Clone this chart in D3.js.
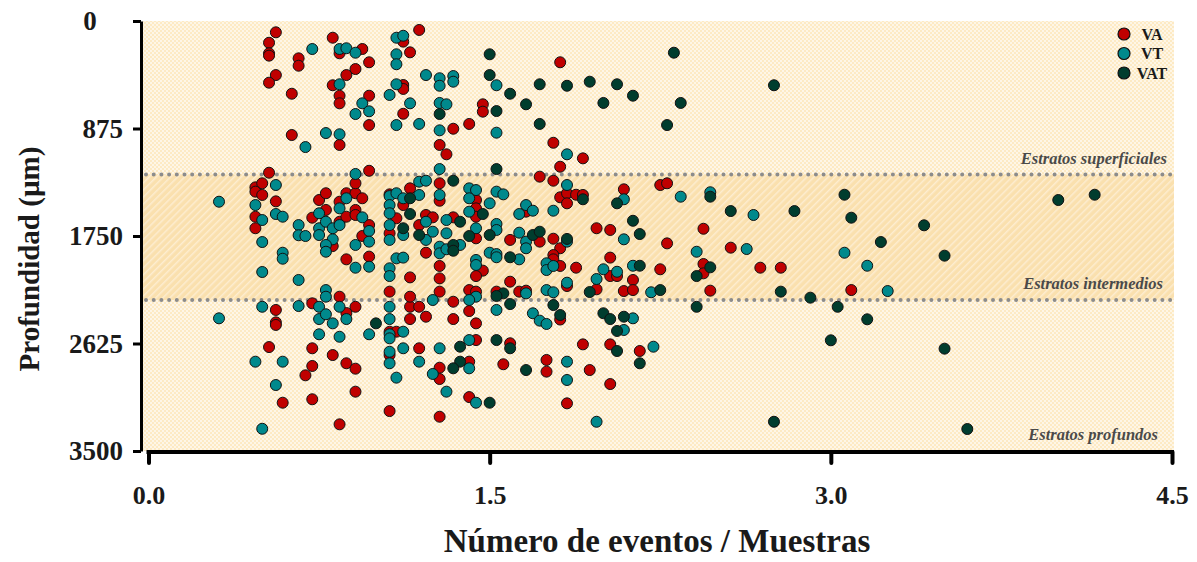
<!DOCTYPE html>
<html>
<head>
<meta charset="utf-8">
<script src="https://cdn.jsdelivr.net/npm/d3@7"></script>
<style>
  html, body { margin: 0; padding: 0; background: #ffffff; }
  svg { display: block; }
  text { font-family: "Liberation Serif", "Times New Roman", serif; }
</style>
</head>
<body>
<svg id="chart" width="1197" height="562"></svg>
<script>
// Events per sample (x) versus depth in µm (y) for each vessel class.
const VA = [
  [0.56,92],[0.53,177],[0.53,263],[0.53,282],[0.66,304],[0.66,364],[0.81,136],[0.84,263],
  [0.94,228],[0.97,336],[0.91,391],[0.87,440],[0.56,440],[0.53,502],[0.81,523],[0.84,608],
  [0.84,670],[0.97,608],[0.97,847],[0.63,592],[0.63,928],[0.84,1009],[1.12,168],[1.15,255],
  [1.12,521],[1.12,553],[1.12,755],[1.19,73],[1.34,877],[1.41,838],[1.47,678],[1.47,738],
  [1.28,1009],[1.31,1085],[1.81,336],[1.78,991],[1.91,1118],[1.81,1186],
  [0.53,1235],[0.47,1354],[0.50,1321],[0.47,1389],[0.50,1416],[0.47,1593],[0.47,1687],
  [0.56,1468],[0.72,1601],[0.75,1457],[0.78,1402],[0.78,1538],[0.81,1832],[0.84,1471],
  [0.84,1634],[0.87,1402],[0.91,1402],[0.94,1443],[0.91,1538],[0.87,1593],[0.91,1579],
  [0.97,1661],[0.94,1750],[0.87,1940],[0.97,1918],[0.91,1321],[0.97,1219],[1.06,1728],
  [1.09,1606],[1.12,1498],[1.06,2203],[1.15,2087],[1.15,1362],[0.84,2244],[0.56,2352],
  [0.72,2298],[0.91,2326],[0.87,2377],[1.06,1411],
  [1.72,1267],[1.78,1300],[1.28,1321],[1.28,1463],[1.44,1457],[1.44,1525],[1.44,1593],
  [1.22,1579],[1.25,1598],[1.19,1661],[1.34,1598],[1.44,1769],[1.22,1886],[1.47,2032],
  [1.44,2076],[1.28,1994],[1.28,2095],[1.28,2203],[1.59,2122],[1.59,1782],[1.72,1796],
  [1.66,1552],[1.81,1435],[1.84,1402],[1.88,1414],[1.91,1416],[1.84,1484],[2.09,1370],
  [2.25,1335],[1.97,1687],[2.03,1701],[1.78,1772],[1.81,1850],[1.78,1905],[1.78,1940],
  [1.81,1994],[1.88,2008],[2.03,1926],[2.28,1810],[2.03,2076],[2.06,2076],[2.25,2021],
  [2.13,2108],[1.84,2157],[1.97,2184],[2.09,2198],[2.13,2190],[1.63,2203],[1.66,2195],
  [1.53,2203],[1.41,2190],[1.44,2203],[1.34,2285],[1.15,2326],[1.19,2326],[1.15,2244],
  [1.41,2361],[1.81,2430],[2.28,1321],[2.44,1691],[2.56,1845],[2.69,2008],[2.78,2008],
  [2.44,1978],[2.44,2054],[2.47,2195],[3.09,2190],
  [0.56,2453],[0.56,2474],[1.06,2529],[1.09,2529],[1.06,2719],[1.15,2426],[1.06,3175],
  [0.53,2654],[0.72,2664],[0.81,2719],[0.72,2808],[0.69,2884],[0.87,2786],[0.91,2830],
  [0.59,3107],[0.72,3079],[0.91,3017],[0.84,3283],
  [1.22,2407],[1.19,2664],[1.34,2426],[1.44,2461],[1.44,2597],[1.59,2623],[1.41,2773],
  [1.28,2822],[1.28,2914],[1.41,3061],[1.28,3221],[1.56,2794],[1.75,2759],[1.75,2854],
  [1.84,3112],[1.91,2632],[1.94,2841],[2.03,2632],[2.03,2955],[2.16,2686]
];

const VT = [
  [0.72,228],[0.84,228],[0.87,222],[0.91,258],[0.84,515],[0.94,670],[0.97,735],[0.91,757],
  [0.78,912],[0.84,922],[0.69,1026],[1.09,136],[1.12,120],[1.09,271],[1.09,352],[1.09,515],
  [1.06,602],[1.09,847],[1.15,670],[1.22,440],[1.28,466],[1.28,527],[1.34,448],[1.34,494],
  [1.28,667],[1.31,678],[1.19,838],[1.28,890],[1.53,523],[1.53,909],[1.84,1085],[1.28,1205],
  [0.31,1471],[0.47,1498],[0.50,1620],[0.50,1799],[0.56,1335],[0.56,1571],[0.59,1593],
  [0.59,1886],[0.59,1935],[0.50,2043],[0.66,2108],[0.66,1661],[0.66,1744],[0.69,1750],
  [0.75,1565],[0.75,1687],[0.75,1742],[0.78,1634],[0.81,1687],[0.81,1777],[0.78,1823],
  [0.78,1878],[0.84,1525],[0.84,1661],[0.87,1443],[0.94,1598],[0.97,1709],[0.97,1796],
  [0.91,1823],[0.91,2008],[0.97,2000],[0.91,1245],[1.06,1425],[1.09,1402],[1.06,1498],
  [1.06,1565],[1.06,1661],[1.06,1782],[1.12,1742],[1.09,1932],[1.12,1926],[1.06,2013],
  [1.06,2076],[0.78,2190],[0.78,2244],[0.50,2326],[0.66,2320],[0.75,2326],[0.84,2326],
  [1.06,2326],
  [1.19,1308],[1.22,1300],[1.12,1443],[1.19,1416],[1.28,1416],[1.41,1362],[1.44,1376],
  [1.41,1443],[1.50,1484],[1.53,1389],[1.56,1411],[1.41,1552],[1.22,1634],[1.31,1620],
  [1.31,1728],[1.22,1782],[1.25,1715],[1.28,1837],[1.28,1891],[1.31,1858],[1.37,1823],
  [1.44,1687],[1.53,1652],[1.53,1701],[1.50,1886],[1.53,1897],[1.53,1923],[1.63,1940],
  [1.44,1945],[1.44,1986],[1.63,1723],[1.66,1796],[1.66,1850],[1.63,1571],[1.66,1498],
  [1.69,1544],[1.78,1544],[1.84,1335],[2.09,1451],[2.09,1777],[1.84,1796],[1.75,1972],
  [1.75,2027],[1.78,1994],[2.00,2021],[2.06,2041],[2.13,1992],[1.97,2100],[1.84,2130],
  [2.21,2208],[1.75,2190],[1.78,2208],[1.66,2217],[1.44,2244],[1.41,2271],[1.25,2271],
  [1.53,2352],[1.69,2379],
  [2.34,1430],[2.47,1394],[2.66,1579],[2.41,1878],[2.63,1856],[3.06,1886],[3.16,1992],
  [3.25,2198],
  [0.31,2420],[0.75,2426],[0.78,2387],[0.81,2461],[0.87,2426],[0.75,2550],[0.84,2570],
  [0.97,2550],[1.06,2426],[1.06,2550],[1.06,2583],[1.06,2692],[1.06,2786],[1.12,2529],
  [1.12,2664],[1.09,2903],[0.47,2773],[0.59,2773],[0.56,2963],[0.50,3319],
  [1.19,2773],[1.28,2664],[1.41,2597],[1.41,2827],[1.25,2873],[1.31,3017],[1.44,3107],
  [1.72,2439],[1.75,2466],[1.84,2773],[1.84,2922],[1.97,3262],[2.13,2420],[2.09,2515],
  [2.22,2651]
];

const VAT = [
  [1.28,757],[1.50,271],[1.50,440],[1.53,733],[1.59,592],[1.66,678],[1.72,515],[1.72,838],
  [1.84,527],[1.94,494],[2.00,667],[2.06,515],[2.13,608],[2.28,847],[2.31,258],[2.34,667],
  [2.75,523],[1.53,1205],
  [1.12,1687],[1.34,1300],[1.15,1443],[1.47,1571],[1.15,1571],[1.37,1634],[1.19,1742],
  [1.34,1823],[1.34,1870],[1.41,1750],[1.50,1742],[1.59,1923],[1.69,1742],[1.72,1715],
  [1.91,1451],[2.06,1484],[2.13,1626],[2.16,1734],[1.84,1774],[2.16,1992],[1.94,2206],
  [2.25,2190],[1.56,2217],[1.53,2238],[1.59,2304],[1.78,2312],[2.47,1430],[2.56,1547],
  [2.84,1547],[3.06,1414],[3.09,1601],[3.41,1663],[2.47,2005],[2.41,2076],[2.78,2203],
  [2.91,2252],[3.22,1799],[4.00,1457],[4.16,1414],[3.50,1910],[2.41,2326],[3.03,2326],
  [1.00,2461],[1.37,2651],[1.37,2773],[1.34,2827],[1.50,3107],[1.53,2597],[1.59,2664],
  [1.66,2841],[1.81,2393],[2.00,2379],[2.03,2426],[2.09,2407],[2.06,2523],[2.06,2686],
  [2.16,2786],[3.16,2428],[3.00,2599],[2.75,3262],[3.50,2667],[3.60,3321]
];

const seriesNames = ["VA", "VT", "VAT"];
const seriesColors = ["#c00000", "#00898c", "#003d2e"];
const xTicks = [0, 1.5, 3.0, 4.5];
const yTicks = [0, 875, 1750, 2625, 3500];
// Intermediate stratum limits (µm)
const strataLimits = [1250, 2270];
const strataLabels = ["Estratos superficiales", "Estratos intermedios", "Estratos profundos"];

const svg = d3.select("#chart");
const plot = { left: 143, right: 1174, top: 21, bottom: 451 };

const x = d3.scaleLinear().domain([0, 4.5]).range([148.5, 1172]);
const y = d3.scaleLinear().domain([0, 3500]).range([plot.top, plot.bottom]);

// Background textures
const defs = svg.append("defs");
const dots = defs.append("pattern").attr("id", "dots")
  .attr("patternUnits", "userSpaceOnUse").attr("width", 4).attr("height", 4);
dots.append("rect").attr("width", 4).attr("height", 4).attr("fill", "#fdeac4");
dots.append("circle").attr("cx", 1).attr("cy", 1).attr("r", 0.9).attr("fill", "#ffffff").attr("opacity", 0.85);
dots.append("circle").attr("cx", 3).attr("cy", 3).attr("r", 0.9).attr("fill", "#ffffff").attr("opacity", 0.85);

const hatch = defs.append("pattern").attr("id", "hatch")
  .attr("patternUnits", "userSpaceOnUse").attr("width", 5).attr("height", 5)
  .attr("patternTransform", "rotate(45)");
hatch.append("rect").attr("width", 5).attr("height", 5).attr("fill", "#fae0ae");
hatch.append("rect").attr("width", 1.5).attr("height", 5).attr("fill", "#fdedd0");

svg.append("rect")
  .attr("x", plot.left).attr("y", plot.top)
  .attr("width", plot.right - plot.left).attr("height", plot.bottom - plot.top)
  .attr("fill", "url(#dots)");

svg.append("rect")
  .attr("x", plot.left).attr("y", y(strataLimits[0]))
  .attr("width", plot.right - plot.left)
  .attr("height", y(strataLimits[1]) - y(strataLimits[0]))
  .attr("fill", "url(#hatch)");

// Dotted stratum boundaries
svg.selectAll("line.limit").data(strataLimits).join("line")
  .attr("class", "limit")
  .attr("x1", plot.left + 3).attr("x2", plot.right)
  .attr("y1", d => y(d)).attr("y2", d => y(d))
  .attr("stroke", "#8c8c8c").attr("stroke-width", 4)
  .attr("stroke-linecap", "round").attr("stroke-dasharray", "0,7.7");

// Stratum labels
const labelPos = [
  { x: 1167, y: 164 }, { x: 1163, y: 289 }, { x: 1158, y: 440 }
];
svg.selectAll("text.stratum").data(strataLabels).join("text")
  .attr("class", "stratum")
  .attr("x", (d, i) => labelPos[i].x).attr("y", (d, i) => labelPos[i].y)
  .attr("text-anchor", "end")
  .attr("font-style", "italic").attr("font-weight", "bold")
  .attr("font-size", 16.5).attr("fill", "#4a4a4a")
  .text(d => d);

// Points
const all = [VA, VT, VAT];
all.forEach((data, i) => {
  svg.append("g").selectAll("circle").data(data).join("circle")
    .attr("cx", d => x(d[0])).attr("cy", d => y(d[1]))
    .attr("r", 5.5)
    .attr("fill", seriesColors[i])
    .attr("stroke", "#111").attr("stroke-width", 1);
});

// Axes
const yAxis = d3.axisLeft(y).tickValues(yTicks).tickFormat(d3.format("d"))
  .tickSizeInner(8).tickSizeOuter(0).tickPadding(10);
const gy = svg.append("g").attr("transform", "translate(141,0)").call(yAxis);
gy.select(".domain").attr("stroke", "#000").attr("stroke-width", 3);
gy.selectAll(".tick line").attr("stroke", "#000").attr("stroke-width", 3);
gy.selectAll(".tick text").attr("font-size", 27).attr("font-weight", "bold")
  .attr("fill", "#1a1a1a").attr("font-family", "Liberation Serif, serif");
// the zero label sits centred under the longer labels
gy.selectAll(".tick text").filter(d => d === 0)
  .attr("text-anchor", "middle").attr("x", -51);

const xAxis = d3.axisBottom(x).tickValues(xTicks).tickFormat(d3.format(".1f"))
  .tickSizeInner(11).tickSizeOuter(0).tickPadding(23);
const gx = svg.append("g").attr("transform", `translate(0,${plot.bottom + 1})`).call(xAxis);
gx.select(".domain").attr("stroke", "#000").attr("stroke-width", 4)
  .attr("d", `M${x(0) - 2},0H${plot.right}`);
gx.selectAll(".tick line").attr("stroke", "#000").attr("stroke-width", 4).attr("stroke-linecap", "round");
gx.selectAll(".tick text").attr("font-size", 26).attr("font-weight", "bold")
  .attr("fill", "#1a1a1a").attr("font-family", "Liberation Serif, serif");

// Axis titles
svg.append("text")
  .attr("x", 657).attr("y", 552).attr("text-anchor", "middle")
  .attr("font-size", 33).attr("font-weight", "bold").attr("fill", "#1a1a1a")
  .text("Número de eventos / Muestras");

svg.append("text")
  .attr("transform", "translate(39,259) rotate(-90)").attr("text-anchor", "middle")
  .attr("font-size", 29).attr("font-weight", "bold").attr("fill", "#1a1a1a")
  .text("Profundidad (µm)");

// Legend
const legend = svg.append("g");
seriesNames.forEach((name, i) => {
  const ly = 34 + i * 19.5;
  legend.append("circle").attr("cx", 1124).attr("cy", ly).attr("r", 6)
    .attr("fill", seriesColors[i]).attr("stroke", "#111").attr("stroke-width", 1.2);
  legend.append("text").attr("x", 1152).attr("y", ly + 5.5).attr("text-anchor", "middle")
    .attr("font-size", 16).attr("font-weight", "bold").attr("fill", "#1a1a1a")
    .text(name);
});
</script>
</body>
</html>
